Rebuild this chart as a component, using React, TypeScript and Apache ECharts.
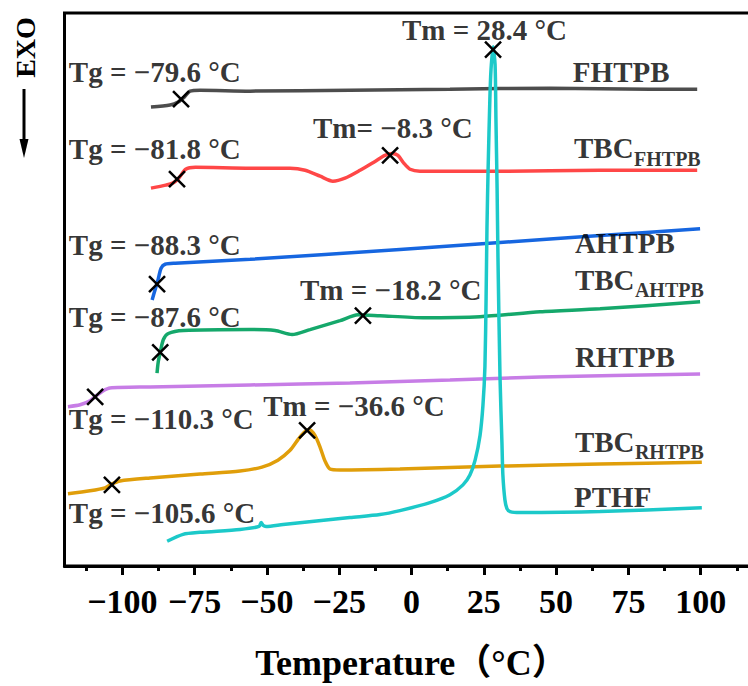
import React, { useEffect, useRef } from "react";
import * as echarts from "echarts";

// Temperature (°C) vs. relative heat flow (arbitrary, EXO down)
const fhtpb = [[-90.1, 464], [-83.5, 466], [-80.7, 469], [-78.6, 474], [-76.6, 480], [-73.1, 481], [-55.8, 480], [-21.3, 481], [13.3, 482], [47.9, 483], [82.5, 482], [98.8, 482]];
const tbcFhtpb = [[-90.1, 382], [-85.0, 385], [-82.6, 387], [-80.5, 392], [-78.1, 401], [-74.7, 403], [-55.8, 402], [-42.0, 402], [-36.8, 400], [-31.6, 394], [-27.2, 389], [-23.0, 392], [-17.8, 400], [-12.6, 409], [-9.2, 415], [-6.7, 417], [-4.7, 415], [-2.6, 407], [-0.5, 401], [2.9, 399], [30.6, 399], [65.2, 400], [98.8, 400]];
const ahtpb = [[-89.7, 269], [-88.7, 279], [-87.6, 290], [-86.6, 301], [-85.2, 305], [-81.7, 306], [-55.8, 310], [-4.0, 320], [30.6, 327], [65.2, 334], [99.8, 341]];
const tbcAhtpb = [[-88.0, 195], [-87.6, 206], [-86.9, 216], [-85.8, 229], [-84.1, 235], [-78.9, 238], [-55.8, 239], [-47.2, 238], [-41.3, 234], [-35.1, 239], [-24.7, 248], [-18.5, 254], [-10.9, 253], [4.0, 251], [23.7, 252], [44.5, 257], [65.2, 260], [99.8, 267]];
const rhtpb = [[-118.8, 161], [-114.6, 163], [-111.2, 167], [-109.1, 172], [-106.7, 177], [-104.3, 180], [-90.4, 181], [-55.8, 183], [-21.3, 185], [13.3, 188], [44.5, 191], [99.8, 194]];
const tbcRhtpb = [[-118.8, 73], [-111.2, 76], [-106.0, 79], [-103.6, 83], [-100.8, 86], [-90.4, 89], [-73.1, 93], [-59.3, 96], [-51.7, 100], [-46.2, 107], [-42.0, 117], [-39.2, 128], [-37.2, 135], [-35.4, 138], [-33.4, 132], [-31.6, 120], [-29.9, 106], [-28.2, 98], [-24.7, 97], [-4.0, 98], [30.6, 101], [65.2, 103], [100.4, 105]];
const pthf = [[-84.5, 25], [-79.0, 32], [-73.1, 34], [-59.3, 37], [-52.7, 40], [-52.0, 44], [-51.3, 41], [-50.3, 40], [-44.4, 42], [-21.3, 49], [-10.9, 52], [-4.0, 56], [6.4, 64], [13.3, 72], [17.8, 82], [20.2, 92], [22.0, 107], [23.7, 132], [24.7, 162], [25.4, 202], [25.8, 272], [26.1, 342], [26.5, 402], [27.1, 472], [27.5, 502], [28.2, 525], [28.9, 507], [29.2, 452], [29.6, 382], [29.9, 312], [30.6, 192], [31.3, 122], [31.6, 92], [32.3, 67], [33.0, 58], [34.1, 55], [37.5, 54], [65.2, 55], [100.4, 59]];

const seriesNames = ["FHTPB", "TBC-FHTPB", "AHTPB", "TBC-AHTPB", "RHTPB", "TBC-RHTPB", "PTHF"];
const seriesData = [fhtpb, tbcFhtpb, ahtpb, tbcAhtpb, rhtpb, tbcRhtpb, pthf];
const seriesColors = ["#4d4d4d", "#ff4747", "#1666e0", "#15a86b", "#c77de6", "#e09e0a", "#1cc9c9"];

// transition markers (x)
const transitionMarks = [[-79.7, 472], [-81.1, 391], [-88.0, 285], [-86.9, 216], [-109.4, 171], [-103.6, 82], [-7.4, 415], [-16.8, 253], [-36.1, 137], [28.2, 522]];

// annotation texts and their anchors (left edge, middle)
const annotationTexts = ["Tg = −79.6 °C", "Tg = −81.8 °C", "Tg = −88.3 °C", "Tg = −87.6 °C", "Tg = −110.3 °C", "Tg = −105.6 °C", "Tm = 28.4 °C", "Tm= −8.3 °C", "Tm = −18.2 °C", "Tm = −36.6 °C"];
const annotationAnchors = [[-118.5, 499.5], [-118.5, 421.5], [-118.5, 324.5], [-118.5, 251.5], [-118.5, 148.5], [-118.5, 53.5], [-3.3, 541.5], [-34.1, 442.5], [-38.6, 278.5], [-51.3, 161.5]];

const sampleMain = ["FHTPB", "TBC", "AHTPB", "TBC", "RHTPB", "TBC", "PTHF"];
const sampleSub = ["", "FHTPB", "", "AHTPB", "", "RHTPB", ""];
const sampleAnchors = [[55.8, 499.5], [56.2, 422.5], [56.5, 326.5], [56.5, 289.5], [56.5, 211.5], [56.5, 125.5], [56.2, 69.5]];

const majorTicks = [-100, -75, -50, -25, 0, 25, 50, 75, 100];
const minorTicks = [-112.5, -87.5, -62.5, -37.5, -12.5, 12.5, 37.5, 62.5, 87.5, 112.5];

const SERIF = '"Liberation Serif", "Times New Roman", "Noto Sans CJK SC", serif';

export default function App() {
  const ref = useRef<HTMLDivElement>(null);
  useEffect(() => {
    if (!ref.current) return;
    const chart = echarts.init(ref.current, undefined, { renderer: "svg" });
    const lineSeries = seriesData.map((d, i) => ({
      name: seriesNames[i],
      type: "line",
      data: d,
      showSymbol: false,
      smooth: 0.25,
      lineStyle: { color: seriesColors[i], width: 3.5 },
      itemStyle: { color: seriesColors[i] },
      silent: true,
      z: 2,
    }));
    const labelBase = {
      show: true,
      position: "right",
      distance: 0,
      fontFamily: SERIF,
      fontWeight: "bold",
      fontSize: 29,
      color: "#000",
    };
    const option: any = {
      animation: false,
      grid: { left: 64.5, top: 13, width: 694, height: 559, show: true, borderColor: "#000", borderWidth: 3, backgroundColor: "transparent" },
      xAxis: [
        {
          type: "value",
          min: -120,
          max: 120,
          position: "bottom",
          axisLine: { show: true, onZero: false, lineStyle: { color: "#000", width: 3 } },
          axisTick: { show: true, customValues: majorTicks, length: 9, lineStyle: { color: "#000", width: 3 } },
          axisLabel: {
            customValues: majorTicks,
            formatter: (v: number) => String(v).replace("-", "−"),
            fontFamily: SERIF,
            fontWeight: "bold",
            fontSize: 34,
            color: "#000",
            margin: 18,
          },
          splitLine: { show: false },
          name: "Temperature（°C）",
          nameLocation: "middle",
          nameGap: 79,
          nameTextStyle: { fontFamily: SERIF, fontWeight: "bold", fontSize: 36, color: "#000" },
        },
        {
          type: "value",
          min: -120,
          max: 120,
          position: "bottom",
          axisLine: { show: false, onZero: false },
          axisTick: { show: true, customValues: minorTicks, length: 5, lineStyle: { color: "#000", width: 3 } },
          axisLabel: { show: false },
          splitLine: { show: false },
        },
      ],
      yAxis: { type: "value", min: 0, max: 559, show: false },
      series: [
        ...lineSeries,
        {
          type: "scatter",
          data: transitionMarks,
          symbol: "path://M0,0L10,10M10,0L0,10",
          symbolSize: 16,
          itemStyle: { color: "transparent", borderColor: "#000", borderWidth: 2.5, opacity: 1 },
          silent: true,
          z: 5,
        },
        {
          type: "scatter",
          symbolSize: 0,
          silent: true,
          z: 6,
          label: labelBase,
          data: annotationTexts.map((t, i) => ({ value: annotationAnchors[i], label: { formatter: t } })),
        },
        {
          type: "scatter",
          symbolSize: 0,
          silent: true,
          z: 6,
          label: labelBase,
          data: sampleMain.map((t, i) => ({ value: sampleAnchors[i], label: { formatter: t } })),
        },
        {
          type: "scatter",
          symbolSize: 0,
          silent: true,
          z: 6,
          label: { ...labelBase, fontSize: 20, offset: [60, 10.5] },
          data: sampleSub
            .map((t, i) => ({ value: sampleAnchors[i], label: { formatter: t } }))
            .filter((d) => d.label.formatter !== ""),
        },
      ],
      graphic: [
        {
          type: "text",
          x: 25,
          y: 47.5,
          rotation: Math.PI / 2,
          style: {
            text: "EXO",
            fontFamily: SERIF,
            fontWeight: "bold",
            fontSize: 28,
            fill: "#000",
            align: "center",
            verticalAlign: "middle",
            textAlign: "center",
            textVerticalAlign: "middle",
          },
        },
        { type: "line", shape: { x1: 24, y1: 89, x2: 24, y2: 145 }, style: { stroke: "#000", lineWidth: 3 } },
        { type: "polygon", shape: { points: [[19.5, 139], [28.5, 139], [24, 158]] }, style: { fill: "#000" } },
      ],
    };
    chart.setOption(option);
    return () => chart.dispose();
  }, []);
  return (
    <div style={{ position: "fixed", left: 0, top: 0, width: 748, height: 686, overflow: "hidden", background: "#fff" }}>
      <div ref={ref} style={{ width: 760, height: 686 }} />
    </div>
  );
}
